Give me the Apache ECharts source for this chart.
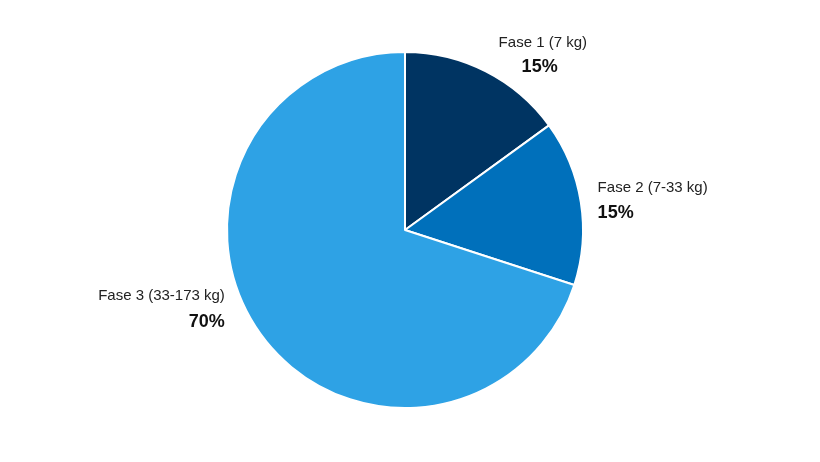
<!DOCTYPE html>
<html><head><meta charset="utf-8">
<script src="https://cdn.jsdelivr.net/npm/echarts@6/dist/echarts.min.js"></script>
<style>html,body{margin:0;background:#fff}#c{width:820px;height:462px}</style>
</head><body><div id="c"></div>
<script>
const categories = ['Fase 1 (7 kg)', 'Fase 2 (7-33 kg)', 'Fase 3 (33-173 kg)'];
const values = [15, 15, 70];
const colors = ['#003462', '#0070BB', '#2EA2E5'];
const offsets = [[-29, -2], [-33, 2], [11, -32]];
const pctPad = [[0, 0, 0, 23], [0, 0, 0, 0], [0, 0, 0, 0]];
const chart = echarts.init(document.getElementById('c'));
chart.setOption({
  animation: false,
  series: [{
    type: 'pie',
    center: [405, 230],
    radius: 178,
    startAngle: 90,
    clockwise: true,
    itemStyle: { borderColor: '#fff', borderWidth: 2 },
    labelLine: { show: false },
    data: categories.map((c, i) => ({
      name: c, value: values[i],
      itemStyle: { color: colors[i] },
      label: {
        offset: offsets[i],
        rich: { b: { fontSize: 18, fontWeight: 'bold', color: '#111', lineHeight: i === 2 ? 32 : 27, padding: pctPad[i] } }
      }
    })),
    label: {
      position: 'outside',
      distance: 20,
      formatter: p => p.name + '\n{b|' + p.value + '%}',
      fontFamily: 'Arial, Liberation Sans',
      fontSize: 15, color: '#222', lineHeight: 22
    }
  }]
});
</script></body></html>
